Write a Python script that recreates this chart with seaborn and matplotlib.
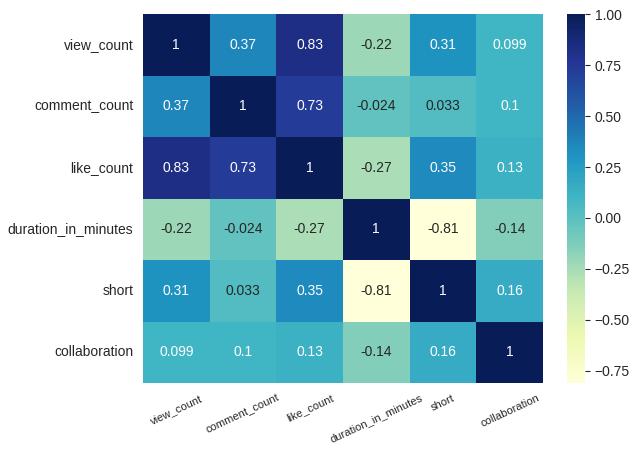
import numpy as np
import pandas as pd
import matplotlib
matplotlib.use('Agg')
import matplotlib.pyplot as plt
import seaborn as sns

columns = ['view_count', 'comment_count', 'like_count', 'duration_in_minutes', 'short', 'collaboration']

view_count = [1, 0.37, 0.83, -0.22, 0.31, 0.099]
comment_count = [0.37, 1, 0.73, -0.024, 0.033, 0.1]
like_count = [0.83, 0.73, 1, -0.27, 0.35, 0.13]
duration_in_minutes = [-0.22, -0.024, -0.27, 1, -0.81, -0.14]
short = [0.31, 0.033, 0.35, -0.81, 1, 0.16]
collaboration = [0.099, 0.1, 0.13, -0.14, 0.16, 1]

corr = pd.DataFrame([view_count, comment_count, like_count, duration_in_minutes, short, collaboration],
                    index=columns, columns=columns)

sns.set_style('white')
plt.rcParams['font.family'] = ['Liberation Sans', 'DejaVu Sans']

fig = plt.figure(figsize=(6.4, 4.55), dpi=100)
ax = fig.add_axes([0.2234, 0.158, 0.625, 0.811])
cax = fig.add_axes([0.886, 0.158, 0.028, 0.811])

sns.heatmap(corr, annot=True, cmap='YlGnBu', ax=ax, cbar_ax=cax, annot_kws={'fontsize': 10})
ax.set_xticklabels(ax.get_xticklabels(), rotation=25, fontsize=8)
ax.set_yticklabels(ax.get_yticklabels(), rotation=0, fontsize=10)
cax.tick_params(labelsize=10)

fig.savefig('out.png', dpi=100)
